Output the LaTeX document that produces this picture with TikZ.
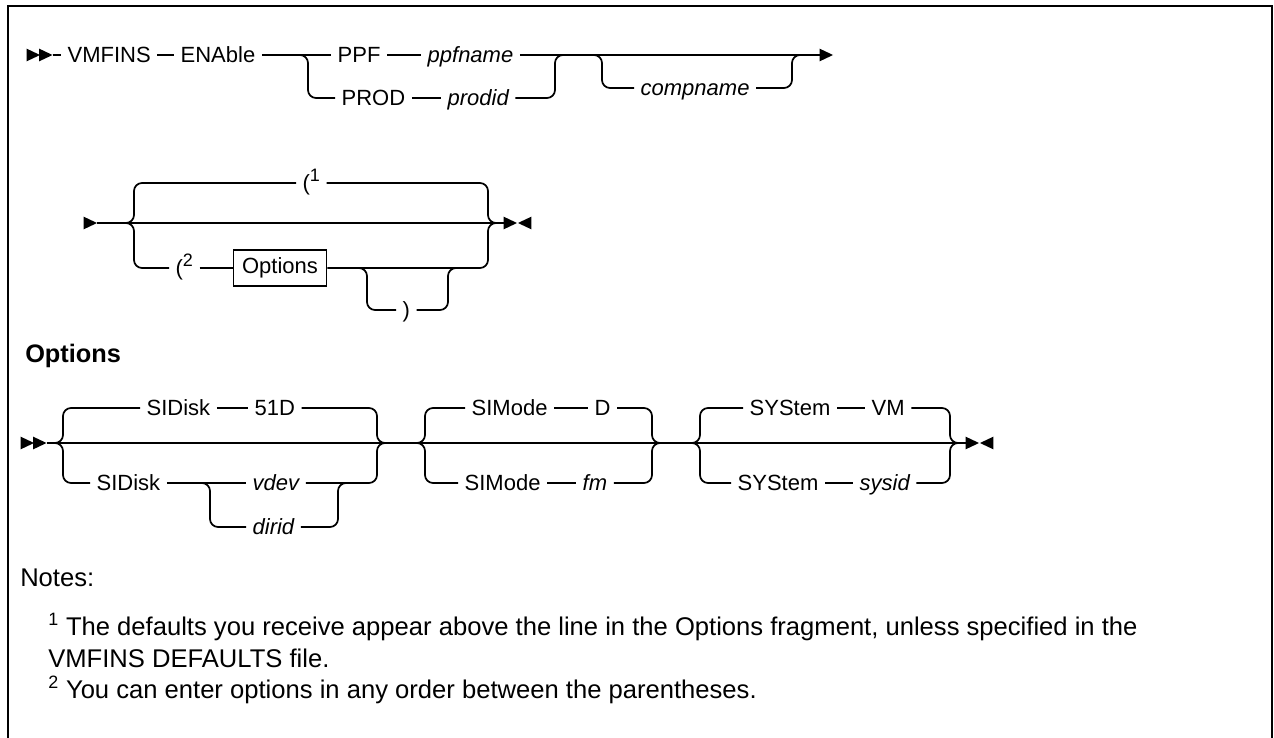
\documentclass[tikz,border=0pt]{standalone}
\usepackage{fontspec}
\setmainfont{Liberation Sans}
\usepackage{tikz}
\usetikzlibrary{shapes.geometric,positioning}

\begin{document}
\begin{tikzpicture}[
  x=0.75pt, y=-0.75pt,
  every node/.style={font=\fontsize{16.5}{19}\selectfont},
  kw/.style={inner sep=0pt, outer xsep=5pt, text height=11.5pt,
             text depth=0pt, anchor=west},
  var/.style={kw, font=\fontsize{16.5}{19}\selectfont\itshape},
  rail/.style={line width=1.3pt, rounded corners=6pt},
  tip/.style={isosceles triangle, isosceles triangle stretches, fill,
              inner sep=0pt, outer sep=0pt, minimum width=9.5pt,
              minimum height=10pt, anchor=apex},
  tipl/.style={tip, shape border rotate=180},
  optbox/.style={draw, line width=1pt, inner sep=0pt,
                 minimum width=70pt, minimum height=27pt},
  note/.style={anchor=west, inner sep=0pt,
               font=\fontsize{19.2}{22}\selectfont},
]
\newcommand\supnum[1]{\raisebox{0.8ex}{\fontsize{13.5}{13}\selectfont #1}}
\useasboundingbox (0,0) rectangle (1274,738);

%% Frame
\draw[line width=1.6pt] (8,738) -- (8,6) -- (1272,6) -- (1272,738);

%% Row 1
\node[tip] (a1) at (40,55) {};
\node[tip] (a2) at (52.5,55) {};
\node[kw] (vmfins) at (61,55) {VMFINS};
\node[kw] (enable) at (174,55) {ENAble};
\node[kw] (ppf) at (331,55) {PPF};
\node[var] (ppfname) at (421,55) {ppfname};
\node[kw] (prod) at (335,98) {PROD};
\node[var] (prodid) at (441,98) {prodid};
\node[var] (compname) at (634,88) {compname};
\node[tip] (e1) at (833,55) {};

\coordinate (s1a) at (296,55);  \coordinate (s1b) at (308,98);
\coordinate (j1a) at (567,55);  \coordinate (j1b) at (555,55);
\coordinate (c1a) at (590,55);  \coordinate (c1b) at (602,88);
\coordinate (c2a) at (804,55);  \coordinate (c2b) at (792,55);

\draw[rail] (a2) -- (vmfins);
\draw[rail] (vmfins) -- (enable);
\draw[rail] (enable) -- (ppf);
\draw[rail] (ppf) -- (ppfname);
\draw[rail] (ppfname) -- (e1);
\draw[rail] (s1a) -| (s1b) -- (prod);
\draw[rail] (prod) -- (prodid);
\draw[rail] (prodid) -| (j1b) -- (j1a);
\draw[rail] (c1a) -| (c1b) -- (compname);
\draw[rail] (compname) -| (c2b) -- (c2a);

%% Row 2
\node[tip] (b1) at (97,223) {};
\node[tip] (b2) at (517,223) {};
\node[tipl] (b3) at (518,223) {};
\node[kw] (lp1) at (296,183) {(\supnum{1}};
\node[kw] (lp2) at (169,268) {(\supnum{2}};
\node[optbox] (opts) at (280,268) {Options};
\node[kw] (rp) at (396,310) {)};

\coordinate (l2a) at (122,223); \coordinate (l2t) at (134,183);
\coordinate (l2b) at (134,268);
\coordinate (r2a) at (500,223); \coordinate (r2c) at (488,223);
\coordinate (s3a) at (355,268); \coordinate (s3b) at (367,310);
\coordinate (j3a) at (460,268); \coordinate (j3b) at (448,268);

\draw[rail] (b1) -- (b2);
\draw[rail] (l2a) -| (l2t) -- (lp1);
\draw[rail] (l2a) -| (l2b) -- (lp2);
\draw[rail] (lp1) -| (r2c) -- (r2a);
\draw[rail] (lp2) -- (opts);
\draw[rail] (opts) -| (r2c) -- (r2a);
\draw[rail] (s3a) -| (s3b) -- (rp);
\draw[rail] (rp) -| (j3b) -- (j3a);

%% Options fragment
\node[anchor=west, inner sep=0pt, font=\fontsize{19}{22}\selectfont\bfseries]
  (opthead) at (25,356) {Options};
\node[tip] (o1) at (34,443) {};
\node[tip] (o2) at (46.5,443) {};
\node[tip] (oe1) at (979,443) {};
\node[tipl] (oe2) at (980,443) {};

\node[kw] (sid1) at (140,408) {SIDisk};
\node[kw] (d51) at (248,408) {51D};
\node[kw] (sid2) at (90,483) {SIDisk};
\node[var] (vdev) at (246,483) {vdev};
\node[var] (dirid) at (246,527) {dirid};

\node[kw] (sm1) at (465,408) {SIMode};
\node[kw] (dd) at (588,408) {D};
\node[kw] (sm2) at (458,483) {SIMode};
\node[var] (fm) at (576,483) {fm};

\node[kw] (sy1) at (743,408) {SYStem};
\node[kw] (vm) at (865,408) {VM};
\node[kw] (sy2) at (731,483) {SYStem};
\node[var] (sysid) at (853,483) {sysid};

\coordinate (g1a) at (51,443);  \coordinate (g1t) at (63,408);
\coordinate (g1b) at (63,483);  \coordinate (g1c) at (377,443);
\coordinate (g1d) at (389,443);
\coordinate (v1a) at (198,483); \coordinate (v1b) at (210,527);
\coordinate (v2a) at (350,483); \coordinate (v2b) at (338,483);
\coordinate (g2a) at (413,443); \coordinate (g2t) at (425,408);
\coordinate (g2b) at (425,483); \coordinate (g2c) at (652,443);
\coordinate (g2d) at (664,443);
\coordinate (g3a) at (688,443); \coordinate (g3t) at (700,408);
\coordinate (g3b) at (700,483); \coordinate (g3c) at (950,443);
\coordinate (g3d) at (962,443);

\draw[rail] (o2) -- (oe1);
% SIDisk
\draw[rail] (g1a) -| (g1t) -- (sid1);
\draw[rail] (sid1) -- (d51);
\draw[rail] (d51) -| (g1c) -- (g1d);
\draw[rail] (g1a) -| (g1b) -- (sid2);
\draw[rail] (sid2) -- (vdev);
\draw[rail] (vdev) -| (g1c) -- (g1d);
\draw[rail] (v1a) -| (v1b) -- (dirid);
\draw[rail] (dirid) -| (v2b) -- (v2a);
% SIMode
\draw[rail] (g2a) -| (g2t) -- (sm1);
\draw[rail] (sm1) -- (dd);
\draw[rail] (dd) -| (g2c) -- (g2d);
\draw[rail] (g2a) -| (g2b) -- (sm2);
\draw[rail] (sm2) -- (fm);
\draw[rail] (fm) -| (g2c) -- (g2d);
% SYStem
\draw[rail] (g3a) -| (g3t) -- (sy1);
\draw[rail] (sy1) -- (vm);
\draw[rail] (vm) -| (g3c) -- (g3d);
\draw[rail] (g3a) -| (g3b) -- (sy2);
\draw[rail] (sy2) -- (sysid);
\draw[rail] (sysid) -| (g3c) -- (g3d);

%% Notes
\node[note] (notes) at (20,578) {Notes:};
\node[note] (n1) at (48,627)
  {\textsuperscript{1} The defaults you receive appear above the line in the Options fragment, unless specified in the};
\node[note] (n1b) at (48,658) {VMFINS DEFAULTS file.};
\node[note] (n2) at (48,690)
  {\textsuperscript{2} You can enter options in any order between the parentheses.};

\end{tikzpicture}
\end{document}
